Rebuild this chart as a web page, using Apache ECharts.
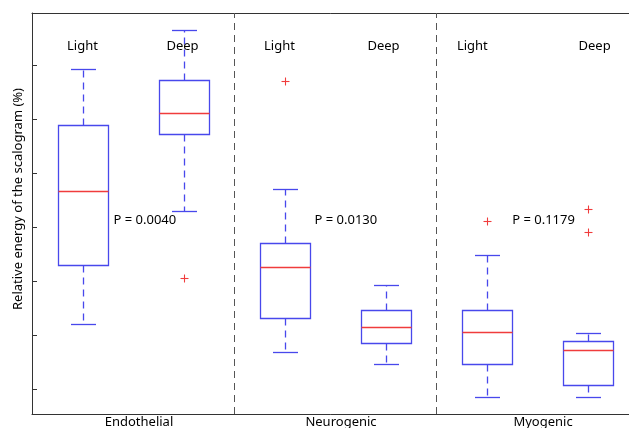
<!DOCTYPE html>
<html><head><meta charset="utf-8">
<script src="https://cdn.jsdelivr.net/npm/echarts@6/dist/echarts.min.js"></script>
<style>html,body{margin:0;padding:0;background:#fff}#c{width:629px;height:428px}</style>
</head><body><div id="c"></div>
<script>
// ---- data ----
const groups = ['Endothelial', 'Neurogenic', 'Myogenic'];
const boxNames = ['Light', 'Deep', 'Light', 'Deep', 'Light', 'Deep'];
// box statistics: [lower whisker, Q1, median, Q3, upper whisker]
const boxStats = [
  [1.21, 2.30, 3.67, 4.89, 5.92],
  [3.30, 4.72, 5.12, 5.72, 6.64],
  [0.69, 1.32, 2.25, 2.71, 3.71],
  [0.47, 0.85, 1.15, 1.47, 1.93],
  [-0.14, 0.46, 1.05, 1.46, 2.49],
  [-0.14, 0.07, 0.72, 0.88, 1.04]
];
// outliers: [box position, value]
const outliers = [[2, 2.06], [3, 5.70], [5, 3.12], [6, 3.34], [6, 2.90]];
const pValues = ['P = 0.0040', 'P = 0.0130', 'P = 0.1179'];
// annotation anchors (data coordinates)
const nameAnchorX = [1.0, 1.99, 2.95, 3.98, 4.86, 6.07];
const nameAnchorY = 6.35;
const pAnchorX = [1.307, 3.297, 5.254];
const pAnchorY = 3.12;
const separators = [2.5, 4.5];

const BLUE = '#4848ec', RED = '#f03c3c', AX = '#333';
const FONT = '13px "Noto Sans", "Open Sans", sans-serif';

function crisp(v) { return Math.round(v) + 0.5; }

const chart = echarts.init(document.getElementById('c'), null, { renderer: 'canvas' });
chart.setOption({
  animation: false,
  backgroundColor: '#fff',
  grid: { left: 32, top: 13, width: 606, height: 401, outerBoundsMode: 'none', containLabel: false },
  xAxis: [
    { type: 'value', min: 0.5, max: 6.5, show: false },
    { type: 'category', data: groups, position: 'bottom',
      axisLine: { lineStyle: { color: AX, width: 1 } },
      axisTick: { inside: true, alignWithLabel: true, length: 5, lineStyle: { color: AX } },
      axisLabel: { color: '#000', fontSize: 13, fontFamily: '"Noto Sans", sans-serif', margin: 2, padding: [0, 0, 0, 12] },
      splitLine: { show: false } },
    { type: 'category', data: groups, position: 'top',
      axisLine: { lineStyle: { color: AX, width: 1 } },
      axisTick: { inside: true, alignWithLabel: true, length: 5, lineStyle: { color: AX } },
      axisLabel: { show: false }, splitLine: { show: false } }
  ],
  yAxis: [
    { type: 'value', min: -0.463, max: 6.963, splitNumber: 7,
      axisLine: { show: true, lineStyle: { color: AX, width: 1 } },
      axisTick: { show: true, inside: true, length: 5, lineStyle: { color: AX } },
      axisLabel: { show: false }, splitLine: { show: false } }
  ],
  series: [
    {
      type: 'custom', xAxisIndex: 0, yAxisIndex: 0, silent: true,
      data: boxStats.map((s, i) => [i + 1].concat(s)),
      renderItem: function (params, api) {
        const x = api.value(0);
        const cx = Math.round(api.coord([x, 0])[0]);
        const y = [1, 2, 3, 4, 5].map(k => crisp(api.coord([x, api.value(k)])[1]));
        const hw = 25, cap = 12.5;
        const L = cx - hw + 0.5, R = cx + hw + 0.5, C = cx + 0.5;
        const line = (x1, y1, x2, y2, color, dash) => ({
          type: 'line', shape: { x1, y1, x2, y2 },
          style: { stroke: color, lineWidth: 1.3, lineDash: dash || null }
        });
        return { type: 'group', children: [
          line(C, y[3], C, y[4], BLUE, [7, 5]),
          line(C, y[1], C, y[0], BLUE, [7, 5]),
          line(C - cap, y[4], C + cap, y[4], BLUE),
          line(C - cap, y[0], C + cap, y[0], BLUE),
          { type: 'rect', shape: { x: L, y: y[3], width: R - L, height: y[1] - y[3] },
            style: { fill: '#fff', stroke: BLUE, lineWidth: 1.3 } },
          line(L, y[2], R, y[2], RED)
        ] };
      },
      markLine: {
        silent: true, symbol: 'none', label: { show: false },
        lineStyle: { color: '#555', width: 1, type: [7, 5] },
        data: separators.map(v => ({ xAxis: v }))
      }
    },
    {
      type: 'custom', xAxisIndex: 0, yAxisIndex: 0, silent: true,
      data: outliers,
      renderItem: function (params, api) {
        const p = api.coord([api.value(0), api.value(1)]);
        const cx = Math.round(p[0]) + 0.5, cy = Math.round(p[1]) + 0.5;
        return { type: 'group', children: [
          { type: 'line', shape: { x1: cx - 4, y1: cy, x2: cx + 4, y2: cy }, style: { stroke: RED, lineWidth: 1.1 } },
          { type: 'line', shape: { x1: cx, y1: cy - 4, x2: cx, y2: cy + 4 }, style: { stroke: RED, lineWidth: 1.1 } }
        ] };
      }
    },
    {
      type: 'custom', xAxisIndex: 0, yAxisIndex: 0, silent: true,
      data: boxNames.map((n, i) => [nameAnchorX[i], nameAnchorY, n]),
      renderItem: function (params, api) {
        const p = api.coord([api.value(0), api.value(1)]);
        return { type: 'text', x: p[0], y: p[1],
          style: { text: boxNames[params.dataIndex], font: FONT, fill: '#000', align: 'center', verticalAlign: 'middle' } };
      }
    },
    {
      type: 'custom', xAxisIndex: 0, yAxisIndex: 0, silent: true,
      data: pValues.map((t, i) => [pAnchorX[i], pAnchorY, t]),
      renderItem: function (params, api) {
        const p = api.coord([api.value(0), api.value(1)]);
        return { type: 'text', x: p[0], y: p[1],
          style: { text: pValues[params.dataIndex], font: FONT, fill: '#000', align: 'left', verticalAlign: 'middle' } };
      }
    }
  ],
  graphic: [
    { type: 'text', x: 18, y: 199, rotation: Math.PI / 2,
      style: { text: 'Relative energy of the scalogram (%)', font: FONT, fill: '#000', align: 'center', verticalAlign: 'middle' } }
  ]
});
</script>
</body></html>
